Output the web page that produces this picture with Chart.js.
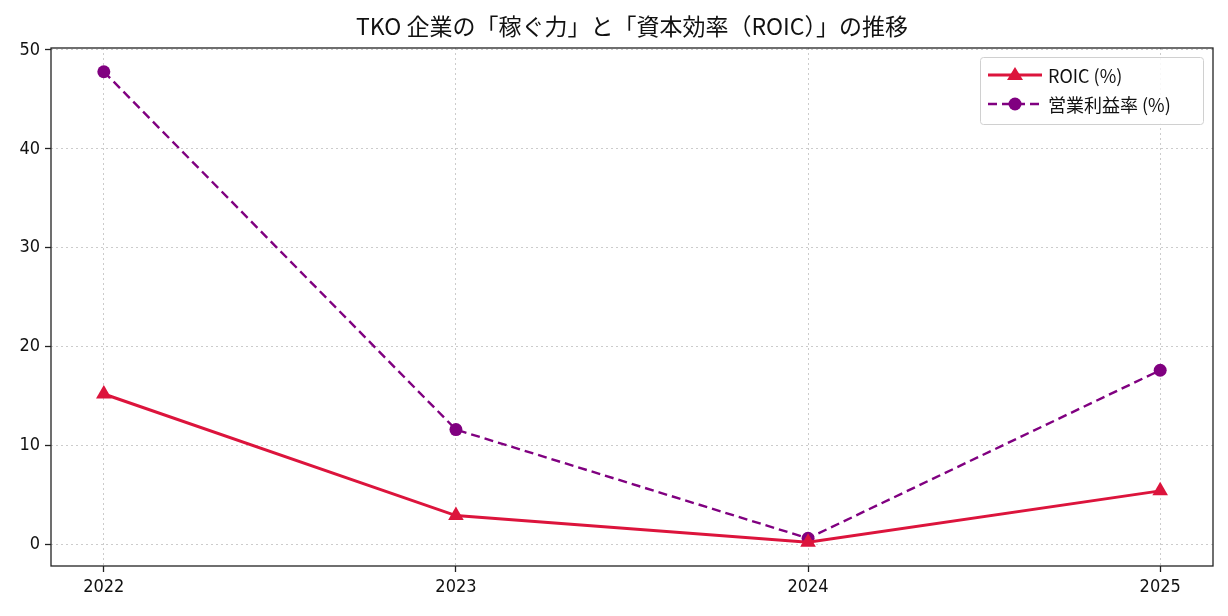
<!DOCTYPE html>
<html>
<head>
<meta charset="utf-8">
<script src="https://cdn.jsdelivr.net/npm/chart.js@4.4.0/dist/chart.umd.min.js"></script>
<style>
  html, body { margin: 0; padding: 0; background: #fff; }
  #wrap { width: 1228px; height: 616px; }
</style>
</head>
<body>
<div id="wrap"><canvas id="myChart" width="1228" height="616"></canvas></div>
<script>
// data
var years = [2022, 2023, 2024, 2025];
var roic = [15.2, 2.9, 0.2, 5.4];
var opMargin = [47.8, 11.6, 0.6, 17.6];
var yTicks = [0, 10, 20, 30, 40, 50];
var titleText = 'TKO 企業の「稼ぐ力」と「資本効率（ROIC）」の推移';
var roicLabel = 'ROIC (%)';
var marginLabel = '営業利益率 (%)';

var jpFont = "'Noto Sans CJK JP', 'Liberation Sans Narrow', sans-serif";
var numFont = "'Liberation Sans Narrow', 'DejaVu Sans Condensed', sans-serif";

// box round the plot, like matplotlib spines, and the title centred on the axes
var frame = {
  id: 'frame',
  afterDatasetsDraw: function(chart) {
    var a = chart.chartArea, ctx = chart.ctx;
    ctx.save();
    ctx.strokeStyle = '#222';
    ctx.lineWidth = 1.3;
    ctx.strokeRect(a.left, a.top, a.right - a.left, a.bottom - a.top);
    ctx.fillStyle = '#111';
    ctx.font = '23px ' + jpFont;
    ctx.textAlign = 'center';
    ctx.textBaseline = 'middle';
    ctx.fillText(titleText, (a.left + a.right) / 2, 26);
    ctx.restore();
  }
};

// legend with line + marker samples
var mplLegend = {
  id: 'mplLegend',
  afterDraw: function(chart) {
    var ctx = chart.ctx;
    var x = 980, y = 57, w = 223, h = 67;
    ctx.save();
    ctx.fillStyle = 'rgba(255,255,255,0.85)';
    ctx.strokeStyle = '#d0d0d0';
    ctx.lineWidth = 1;
    ctx.beginPath();
    ctx.roundRect(x + 0.5, y + 0.5, w, h, 3);
    ctx.fill();
    ctx.stroke();
    chart.data.datasets.forEach(function(ds, i) {
      var cy = y + 18 + i * 29;
      ctx.strokeStyle = ds.borderColor;
      ctx.lineWidth = ds.borderWidth;
      ctx.setLineDash(ds.borderDash || []);
      ctx.beginPath();
      ctx.moveTo(x + 8, cy);
      ctx.lineTo(x + 62, cy);
      ctx.stroke();
      ctx.setLineDash([]);
      ctx.fillStyle = ds.backgroundColor;
      ctx.beginPath();
      if (ds.pointStyle === 'triangle') {
        ctx.moveTo(x + 35, cy - 8);
        ctx.lineTo(x + 43, cy + 5);
        ctx.lineTo(x + 27, cy + 5);
        ctx.closePath();
      } else {
        ctx.arc(x + 35, cy, 6.5, 0, Math.PI * 2);
      }
      ctx.fill();
      ctx.fillStyle = '#111';
      ctx.font = '18px ' + jpFont;
      ctx.textBaseline = 'middle';
      ctx.fillText(ds.label, x + 68, cy + 1);
    });
    ctx.restore();
  }
};

var myChart = new Chart(
  document.getElementById('myChart'),
  {
    type: 'line',
    data: {
      datasets: [{
        label: roicLabel,
        data: years.map(function(yr, i) { return { x: yr, y: roic[i] }; }),
        borderColor: '#dc143c',
        backgroundColor: '#dc143c',
        borderWidth: 3,
        pointStyle: 'triangle',
        pointRadius: 9,
        pointBorderWidth: 0,
        tension: 0
      }, {
        label: marginLabel,
        data: years.map(function(yr, i) { return { x: yr, y: opMargin[i] }; }),
        borderColor: '#800080',
        backgroundColor: '#800080',
        borderWidth: 2.4,
        borderDash: [9, 5],
        pointStyle: 'circle',
        pointRadius: 6.5,
        pointBorderWidth: 0,
        tension: 0
      }]
    },
    options: {
      responsive: false,
      animation: false,
      layout: { padding: { left: 0, right: 15, top: 48, bottom: 4 } },
      plugins: {
        legend: { display: false },
        tooltip: { enabled: false },
        title: { display: false }
      },
      scales: {
        x: {
          type: 'linear',
          min: 2021.85,
          max: 2025.15,
          afterBuildTicks: function(axis) {
            axis.ticks = years.map(function(v) { return { value: v }; });
          },
          afterFit: function(axis) { axis.height = 46; },
          ticks: {
            color: '#111',
            font: { family: numFont, size: 18 },
            padding: 5,
            callback: function(v) { return String(v); }
          },
          grid: { color: '#cccccc', lineWidth: 1, tickLength: 6, tickColor: '#222', tickWidth: 1.3, tickBorderDash: [] },
          border: { display: false, dash: [2, 3] }
        },
        y: {
          min: -2.2,
          max: 50.2,
          afterBuildTicks: function(axis) {
            axis.ticks = yTicks.map(function(v) { return { value: v }; });
          },
          afterFit: function(axis) { axis.width = 51; },
          ticks: {
            color: '#111',
            font: { family: numFont, size: 18 },
            padding: 5
          },
          grid: { color: '#cccccc', lineWidth: 1, tickLength: 6, tickColor: '#222', tickWidth: 1.3, tickBorderDash: [] },
          border: { display: false, dash: [2, 3] }
        }
      }
    },
    plugins: [frame, mplLegend]
  }
);
</script>
</body>
</html>
